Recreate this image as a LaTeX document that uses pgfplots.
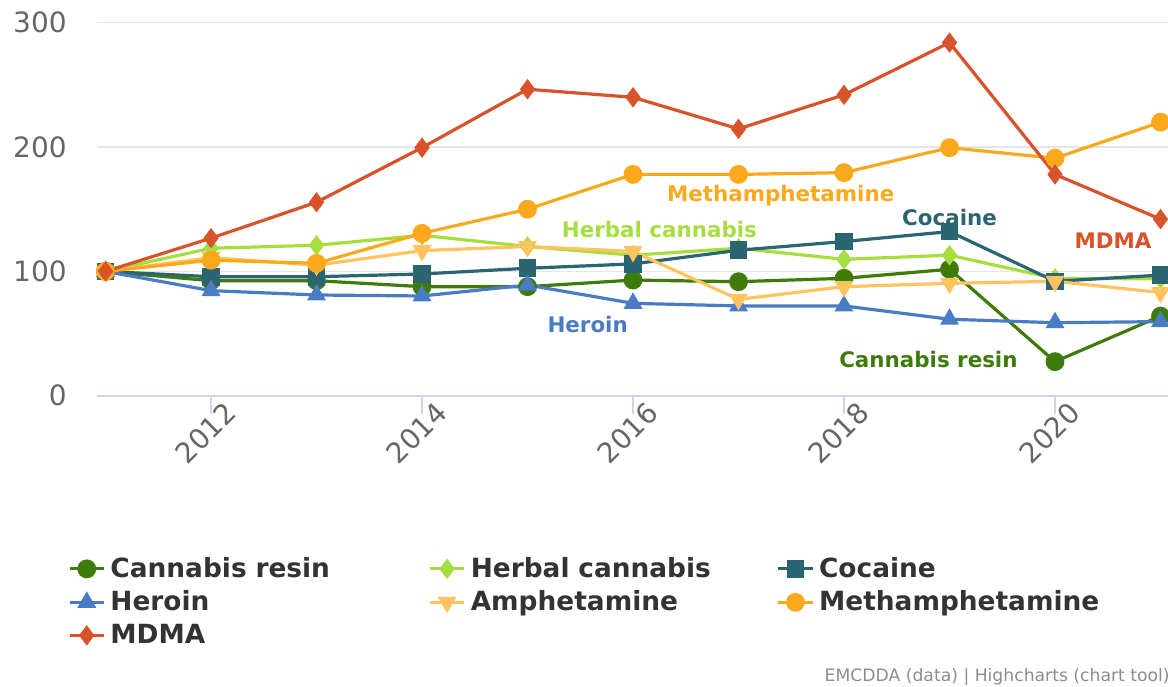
\documentclass[border=0pt]{standalone}
\usepackage{pgfplots}
\pgfplotsset{compat=1.18}
\usepackage{fontspec}
\setmainfont{DejaVu Sans}
\definecolor{cresin}{HTML}{3E7B0B}
\definecolor{herbal}{HTML}{A5DE3E}
\definecolor{cocaine}{HTML}{2B6571}
\definecolor{heroin}{HTML}{4A7CC6}
\definecolor{amph}{HTML}{FFC35F}
\definecolor{meth}{HTML}{FBA81C}
\definecolor{mdma}{HTML}{D9532A}
\definecolor{gridc}{HTML}{E6E6E6}
\definecolor{axisc}{HTML}{CCD6EB}
\definecolor{tickc}{HTML}{666666}
\definecolor{legc}{HTML}{333333}
\begin{document}
\begin{tikzpicture}
\path[use as bounding box] (0,0) rectangle (584pt,-343pt);
\begin{axis}[
  at={(48.5pt,-11.35pt)}, anchor=north west,
  width=535.5pt, height=186.5pt, scale only axis,
  xmin=2010.919, xmax=2021.071, ymin=0, ymax=300,
  clip=false,
  axis x line*=bottom, axis y line*=left,
  x axis line style={axisc, line width=1pt, -},
  y axis line style={draw=none},
  xtick={2012,2014,2016,2018,2020},
  ytick={0,100,200,300},
  xticklabels={2012,2014,2016,2018,2020},
  ymajorgrids, grid style={gridc, line width=0.6pt},
  x tick style={axisc, line width=1pt},
  y tick style={draw=none},
  tick align=outside,
  major tick length=9pt,
  /pgf/number format/assume math mode=true,
  ticklabel style={font=\fontsize{14}{16}\selectfont, text=tickc},
  xticklabel style={rotate=45, anchor=north east, inner sep=0pt, xshift=9.4pt, yshift=0.6pt},
  yticklabel style={anchor=east, inner sep=0pt, xshift=-6pt},
  every axis plot/.append style={line width=1.6pt},
  legend columns=3,
  legend cell align=left,
  legend style={at={(-0.027,-0.428)}, anchor=north west, draw=none, fill=none,
    inner sep=0pt, outer sep=0pt,
    font=\fontsize{13.2}{15}\selectfont\bfseries, text=legc,
    row sep=3.2pt, nodes={inner sep=1pt},
    /tikz/every odd column/.append style={column sep=1.5pt}},
]
\addplot[cresin, mark=*, mark size=3.9pt] coordinates {
(2011,100) (2012,92.5) (2013,92.5) (2014,87.7) (2015,87.7) (2016,93) (2017,91.7) (2018,94.4) (2019,101.7) (2020,27.4) (2021,64)};
\addlegendentry[text width=158pt]{Cannabis resin}
\addplot[herbal, mark=diamond*, mark size=3.8pt] coordinates {
(2011,100) (2012,118.6) (2013,121) (2014,129) (2015,120) (2016,113) (2017,118.6) (2018,109.7) (2019,113) (2020,94.4) (2021,94)};
\addlegendentry[text width=152pt]{Herbal cannabis}
\addplot[cocaine, mark=square*, mark size=3.6pt] coordinates {
(2011,100) (2012,95.7) (2013,95.7) (2014,97.9) (2015,102.5) (2016,106) (2017,117) (2018,124) (2019,132) (2020,92) (2021,97)};
\addlegendentry{Cocaine}
\addplot[heroin, mark=triangle*, mark size=3.9pt] coordinates {
(2011,100) (2012,84.5) (2013,81) (2014,80.2) (2015,89) (2016,74.3) (2017,72.2) (2018,72.2) (2019,61.5) (2020,58.7) (2021,59.6)};
\addlegendentry[text width=158pt]{Heroin}
\addplot[amph, mark=triangle*, mark size=3.9pt, mark options={rotate=180}] coordinates {
(2011,100) (2012,111) (2013,105) (2014,116.7) (2015,120) (2016,116) (2017,77.5) (2018,87.7) (2019,90.4) (2020,92) (2021,83)};
\addlegendentry[text width=152pt]{Amphetamine}
\addplot[meth, mark=*, mark size=3.9pt] coordinates {
(2011,100) (2012,109) (2013,106.5) (2014,130.6) (2015,150) (2016,178) (2017,178) (2018,179.4) (2019,199.5) (2020,191) (2021,220)};
\addlegendentry{Methamphetamine}
\addplot[mdma, mark=diamond*, mark size=3.8pt] coordinates {
(2011,100) (2012,126.7) (2013,155.6) (2014,199.5) (2015,246.5) (2016,240) (2017,214.6) (2018,242) (2019,284) (2020,178) (2021,142)};
\addlegendentry[text width=158pt]{MDMA}
\begin{scope}[every node/.style={font=\fontsize{10.7}{12}\selectfont\bfseries, inner sep=0pt}]
\node[text=meth] at (axis cs:2017.40,160.7) {Methamphetamine};
\node[text=herbal] at (axis cs:2016.25,133.3) {Herbal cannabis};
\node[text=cocaine] at (axis cs:2019.0,143) {Cocaine};
\node[text=mdma] at (axis cs:2020.55,124.5) {MDMA};
\node[text=heroin] at (axis cs:2015.57,56.9) {Heroin};
\node[text=cresin] at (axis cs:2018.80,28.7) {Cannabis resin};
\end{scope}
\end{axis}
\node[anchor=base east, inner sep=0pt, font=\fontsize{8.6}{10}\selectfont, text=black!45] at (585pt,-340.5pt) {EMCDDA (data) | Highcharts (chart tool)};
\end{tikzpicture}
\end{document}
